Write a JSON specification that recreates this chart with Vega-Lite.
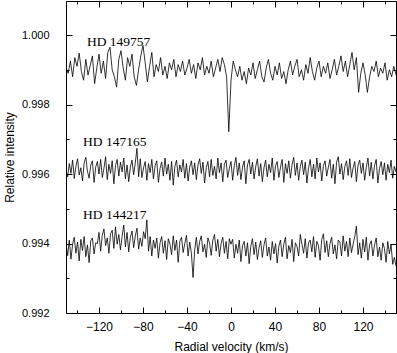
{
"$schema":"https://vega.github.io/schema/vega-lite/v6.json",
"width":330,"height":312,
"autosize":"none",
"padding":{"left":66,"top":1,"right":1,"bottom":40},
"config":{"view":{"stroke":"black","strokeWidth":1},"axis":{"domain":false,"grid":false,"tickColor":"black","tickWidth":1,"labelColor":"black","titleColor":"black","labelFont":"Liberation Sans","titleFont":"Liberation Sans","titleFontWeight":"normal","labelFontSize":11,"titleFontSize":12}},
"datasets":{
"a":[{"x":-150,"y":0.99905},{"x":-148,"y":0.9989},{"x":-146,"y":0.99925},{"x":-144,"y":0.9988},{"x":-142,"y":0.99935},{"x":-140,"y":0.9991},{"x":-138,"y":0.99948},{"x":-136,"y":0.99895},{"x":-134,"y":0.9987},{"x":-132,"y":0.9993},{"x":-130,"y":0.99885},{"x":-128,"y":0.99912},{"x":-126,"y":0.9994},{"x":-124,"y":0.9986},{"x":-122,"y":0.99905},{"x":-120,"y":0.99945},{"x":-118,"y":0.9989},{"x":-116,"y":0.99925},{"x":-114,"y":0.99875},{"x":-112,"y":0.9995},{"x":-110,"y":0.99965},{"x":-108,"y":0.999},{"x":-106,"y":0.9988},{"x":-104,"y":0.9985},{"x":-102,"y":0.9993},{"x":-100,"y":0.99955},{"x":-98,"y":0.99905},{"x":-96,"y":0.9987},{"x":-94,"y":0.99935},{"x":-92,"y":0.9991},{"x":-90,"y":0.99945},{"x":-88,"y":0.9988},{"x":-86,"y":0.99855},{"x":-84,"y":0.999},{"x":-82,"y":0.9994},{"x":-80,"y":0.9997},{"x":-78,"y":0.9992},{"x":-76,"y":0.99865},{"x":-74,"y":0.9991},{"x":-72,"y":0.9995},{"x":-70,"y":0.9988},{"x":-68,"y":0.99915},{"x":-66,"y":0.99895},{"x":-64,"y":0.99935},{"x":-62,"y":0.99885},{"x":-60,"y":0.9991},{"x":-58,"y":0.99875},{"x":-56,"y":0.9992},{"x":-54,"y":0.999},{"x":-52,"y":0.9993},{"x":-50,"y":0.9988},{"x":-48,"y":0.99915},{"x":-46,"y":0.99895},{"x":-44,"y":0.99925},{"x":-42,"y":0.99885},{"x":-40,"y":0.99905},{"x":-38,"y":0.9993},{"x":-36,"y":0.9989},{"x":-34,"y":0.99915},{"x":-32,"y":0.99875},{"x":-30,"y":0.9992},{"x":-28,"y":0.999},{"x":-26,"y":0.99935},{"x":-24,"y":0.99885},{"x":-22,"y":0.9991},{"x":-20,"y":0.9989},{"x":-18,"y":0.99925},{"x":-16,"y":0.9988},{"x":-14,"y":0.99905},{"x":-12,"y":0.9993},{"x":-10,"y":0.99895},{"x":-8,"y":0.99935},{"x":-6,"y":0.99915},{"x":-4,"y":0.9988},{"x":-2,"y":0.99722},{"x":0,"y":0.9987},{"x":2,"y":0.99925},{"x":4,"y":0.999},{"x":6,"y":0.9988},{"x":8,"y":0.9991},{"x":10,"y":0.9987},{"x":12,"y":0.99895},{"x":14,"y":0.9986},{"x":16,"y":0.99905},{"x":18,"y":0.99885},{"x":20,"y":0.9992},{"x":22,"y":0.99875},{"x":24,"y":0.999},{"x":26,"y":0.99925},{"x":28,"y":0.9988},{"x":30,"y":0.99865},{"x":32,"y":0.99905},{"x":34,"y":0.9993},{"x":36,"y":0.9989},{"x":38,"y":0.9987},{"x":40,"y":0.9991},{"x":42,"y":0.99885},{"x":44,"y":0.9992},{"x":46,"y":0.99875},{"x":48,"y":0.99895},{"x":50,"y":0.9986},{"x":52,"y":0.999},{"x":54,"y":0.99925},{"x":56,"y":0.99885},{"x":58,"y":0.9991},{"x":60,"y":0.9993},{"x":62,"y":0.9988},{"x":64,"y":0.999},{"x":66,"y":0.9987},{"x":68,"y":0.99915},{"x":70,"y":0.9989},{"x":72,"y":0.99935},{"x":74,"y":0.99895},{"x":76,"y":0.9987},{"x":78,"y":0.99905},{"x":80,"y":0.99925},{"x":82,"y":0.9988},{"x":84,"y":0.9991},{"x":86,"y":0.9989},{"x":88,"y":0.9992},{"x":90,"y":0.99875},{"x":92,"y":0.999},{"x":94,"y":0.9993},{"x":96,"y":0.99885},{"x":98,"y":0.9991},{"x":100,"y":0.9994},{"x":102,"y":0.99895},{"x":104,"y":0.99925},{"x":106,"y":0.9988},{"x":108,"y":0.99915},{"x":110,"y":0.9995},{"x":112,"y":0.999},{"x":114,"y":0.99935},{"x":116,"y":0.99835},{"x":118,"y":0.9989},{"x":120,"y":0.9992},{"x":122,"y":0.99885},{"x":124,"y":0.99835},{"x":126,"y":0.9988},{"x":128,"y":0.9991},{"x":130,"y":0.99895},{"x":132,"y":0.99925},{"x":134,"y":0.9988},{"x":136,"y":0.99905},{"x":138,"y":0.9989},{"x":140,"y":0.9992},{"x":142,"y":0.9987},{"x":144,"y":0.999},{"x":146,"y":0.9988},{"x":148,"y":0.9991},{"x":150,"y":0.99885}],
"b":[{"x":-150,"y":0.99612},{"x":-148.5,"y":0.99592},{"x":-147,"y":0.9963},{"x":-145.5,"y":0.99602},{"x":-144,"y":0.9964},{"x":-142.5,"y":0.99587},{"x":-141,"y":0.99622},{"x":-139.5,"y":0.99644},{"x":-138,"y":0.99597},{"x":-136.5,"y":0.99618},{"x":-135,"y":0.9958},{"x":-133.5,"y":0.99632},{"x":-132,"y":0.99648},{"x":-130.5,"y":0.99608},{"x":-129,"y":0.99588},{"x":-127.5,"y":0.99626},{"x":-126,"y":0.99638},{"x":-124.5,"y":0.99576},{"x":-123,"y":0.9962},{"x":-121.5,"y":0.99636},{"x":-120,"y":0.996},{"x":-118.5,"y":0.99642},{"x":-117,"y":0.9959},{"x":-115.5,"y":0.99616},{"x":-114,"y":0.9965},{"x":-112.5,"y":0.99584},{"x":-111,"y":0.99628},{"x":-109.5,"y":0.99602},{"x":-108,"y":0.99638},{"x":-106.5,"y":0.99572},{"x":-105,"y":0.99624},{"x":-103.5,"y":0.99642},{"x":-102,"y":0.99594},{"x":-100.5,"y":0.99634},{"x":-99,"y":0.99606},{"x":-97.5,"y":0.99646},{"x":-96,"y":0.99586},{"x":-94.5,"y":0.99626},{"x":-93,"y":0.99578},{"x":-91.5,"y":0.9962},{"x":-90,"y":0.9964},{"x":-88.5,"y":0.99598},{"x":-87,"y":0.99632},{"x":-85.5,"y":0.99674},{"x":-84,"y":0.99592},{"x":-82.5,"y":0.99644},{"x":-81,"y":0.9959},{"x":-79.5,"y":0.99618},{"x":-78,"y":0.99636},{"x":-76.5,"y":0.99582},{"x":-75,"y":0.9963},{"x":-73.5,"y":0.99604},{"x":-72,"y":0.99642},{"x":-70.5,"y":0.99586},{"x":-69,"y":0.99624},{"x":-67.5,"y":0.99638},{"x":-66,"y":0.99576},{"x":-64.5,"y":0.99616},{"x":-63,"y":0.99634},{"x":-61.5,"y":0.99594},{"x":-60,"y":0.99646},{"x":-58.5,"y":0.996},{"x":-57,"y":0.99628},{"x":-55.5,"y":0.99582},{"x":-54,"y":0.99636},{"x":-52.5,"y":0.99568},{"x":-51,"y":0.99622},{"x":-49.5,"y":0.9964},{"x":-48,"y":0.99592},{"x":-46.5,"y":0.99626},{"x":-45,"y":0.99606},{"x":-43.5,"y":0.99642},{"x":-42,"y":0.99588},{"x":-40.5,"y":0.9963},{"x":-39,"y":0.9958},{"x":-37.5,"y":0.9962},{"x":-36,"y":0.99638},{"x":-34.5,"y":0.99598},{"x":-33,"y":0.99632},{"x":-31.5,"y":0.99584},{"x":-30,"y":0.99626},{"x":-28.5,"y":0.99644},{"x":-27,"y":0.99602},{"x":-25.5,"y":0.99634},{"x":-24,"y":0.99574},{"x":-22.5,"y":0.99618},{"x":-21,"y":0.99636},{"x":-19.5,"y":0.99592},{"x":-18,"y":0.99642},{"x":-16.5,"y":0.99596},{"x":-15,"y":0.99622},{"x":-13.5,"y":0.99586},{"x":-12,"y":0.99646},{"x":-10.5,"y":0.99604},{"x":-9,"y":0.99632},{"x":-7.5,"y":0.99578},{"x":-6,"y":0.99628},{"x":-4.5,"y":0.9964},{"x":-3,"y":0.9959},{"x":-1.5,"y":0.99616},{"x":0,"y":0.99636},{"x":1.5,"y":0.99582},{"x":3,"y":0.99624},{"x":4.5,"y":0.99648},{"x":6,"y":0.99596},{"x":7.5,"y":0.99632},{"x":9,"y":0.99584},{"x":10.5,"y":0.9962},{"x":12,"y":0.99638},{"x":13.5,"y":0.99572},{"x":15,"y":0.99626},{"x":16.5,"y":0.99642},{"x":18,"y":0.996},{"x":19.5,"y":0.99634},{"x":21,"y":0.99586},{"x":22.5,"y":0.99622},{"x":24,"y":0.99644},{"x":25.5,"y":0.99594},{"x":27,"y":0.9963},{"x":28.5,"y":0.99578},{"x":30,"y":0.99618},{"x":31.5,"y":0.9964},{"x":33,"y":0.99592},{"x":34.5,"y":0.99628},{"x":36,"y":0.99604},{"x":37.5,"y":0.99646},{"x":39,"y":0.99582},{"x":40.5,"y":0.99624},{"x":42,"y":0.99636},{"x":43.5,"y":0.9959},{"x":45,"y":0.9962},{"x":46.5,"y":0.99642},{"x":48,"y":0.99576},{"x":49.5,"y":0.9963},{"x":51,"y":0.99602},{"x":52.5,"y":0.99638},{"x":54,"y":0.99588},{"x":55.5,"y":0.99626},{"x":57,"y":0.99648},{"x":58.5,"y":0.99596},{"x":60,"y":0.99632},{"x":61.5,"y":0.99582},{"x":63,"y":0.99622},{"x":64.5,"y":0.9964},{"x":66,"y":0.99598},{"x":67.5,"y":0.99634},{"x":69,"y":0.99574},{"x":70.5,"y":0.99618},{"x":72,"y":0.99642},{"x":73.5,"y":0.99592},{"x":75,"y":0.99628},{"x":76.5,"y":0.99586},{"x":78,"y":0.99646},{"x":79.5,"y":0.99606},{"x":81,"y":0.99632},{"x":82.5,"y":0.9958},{"x":84,"y":0.99624},{"x":85.5,"y":0.99638},{"x":87,"y":0.99594},{"x":88.5,"y":0.9962},{"x":90,"y":0.99642},{"x":91.5,"y":0.99588},{"x":93,"y":0.99628},{"x":94.5,"y":0.99572},{"x":96,"y":0.99634},{"x":97.5,"y":0.9965},{"x":99,"y":0.996},{"x":100.5,"y":0.9963},{"x":102,"y":0.99584},{"x":103.5,"y":0.99622},{"x":105,"y":0.99638},{"x":106.5,"y":0.99596},{"x":108,"y":0.99644},{"x":109.5,"y":0.9959},{"x":111,"y":0.99618},{"x":112.5,"y":0.99636},{"x":114,"y":0.99578},{"x":115.5,"y":0.99626},{"x":117,"y":0.9964},{"x":118.5,"y":0.99602},{"x":120,"y":0.99632},{"x":121.5,"y":0.99582},{"x":123,"y":0.9962},{"x":124.5,"y":0.99646},{"x":126,"y":0.99594},{"x":127.5,"y":0.99634},{"x":129,"y":0.99586},{"x":130.5,"y":0.99624},{"x":132,"y":0.99642},{"x":133.5,"y":0.99574},{"x":135,"y":0.99616},{"x":136.5,"y":0.99636},{"x":138,"y":0.99598},{"x":139.5,"y":0.99632},{"x":141,"y":0.99582},{"x":142.5,"y":0.99628},{"x":144,"y":0.99604},{"x":145.5,"y":0.9964},{"x":147,"y":0.99588},{"x":148.5,"y":0.99622},{"x":150,"y":0.99606}],
"c":[{"x":-150,"y":0.994},{"x":-148.5,"y":0.99365},{"x":-147,"y":0.9941},{"x":-145.5,"y":0.99355},{"x":-144,"y":0.99398},{"x":-142.5,"y":0.99418},{"x":-141,"y":0.99372},{"x":-139.5,"y":0.99404},{"x":-138,"y":0.9935},{"x":-136.5,"y":0.99412},{"x":-135,"y":0.9938},{"x":-133.5,"y":0.9942},{"x":-132,"y":0.99362},{"x":-130.5,"y":0.99396},{"x":-129,"y":0.99345},{"x":-127.5,"y":0.99408},{"x":-126,"y":0.99416},{"x":-124.5,"y":0.9937},{"x":-123,"y":0.99402},{"x":-121.5,"y":0.994},{"x":-120,"y":0.99432},{"x":-118.5,"y":0.99378},{"x":-117,"y":0.99424},{"x":-115.5,"y":0.99442},{"x":-114,"y":0.99394},{"x":-112.5,"y":0.99416},{"x":-111,"y":0.99372},{"x":-109.5,"y":0.99428},{"x":-108,"y":0.99438},{"x":-106.5,"y":0.99386},{"x":-105,"y":0.99448},{"x":-103.5,"y":0.99398},{"x":-102,"y":0.99426},{"x":-100.5,"y":0.99382},{"x":-99,"y":0.9942},{"x":-97.5,"y":0.99453},{"x":-96,"y":0.9939},{"x":-94.5,"y":0.99432},{"x":-93,"y":0.99376},{"x":-91.5,"y":0.99418},{"x":-90,"y":0.99436},{"x":-88.5,"y":0.99388},{"x":-87,"y":0.99422},{"x":-85.5,"y":0.99444},{"x":-84,"y":0.99384},{"x":-82.5,"y":0.99416},{"x":-81,"y":0.99392},{"x":-79.5,"y":0.99434},{"x":-78,"y":0.99414},{"x":-76.5,"y":0.99468},{"x":-75,"y":0.99378},{"x":-73.5,"y":0.9942},{"x":-72,"y":0.99364},{"x":-70.5,"y":0.9941},{"x":-69,"y":0.99386},{"x":-67.5,"y":0.99416},{"x":-66,"y":0.99358},{"x":-64.5,"y":0.99402},{"x":-63,"y":0.9942},{"x":-61.5,"y":0.99372},{"x":-60,"y":0.99408},{"x":-58.5,"y":0.99354},{"x":-57,"y":0.99414},{"x":-55.5,"y":0.99398},{"x":-54,"y":0.99368},{"x":-52.5,"y":0.99422},{"x":-51,"y":0.9938},{"x":-49.5,"y":0.9941},{"x":-48,"y":0.99346},{"x":-46.5,"y":0.99406},{"x":-45,"y":0.99418},{"x":-43.5,"y":0.99374},{"x":-42,"y":0.994},{"x":-40.5,"y":0.99424},{"x":-39,"y":0.99364},{"x":-37.5,"y":0.99404},{"x":-36,"y":0.99372},{"x":-34.5,"y":0.99302},{"x":-33,"y":0.99382},{"x":-31.5,"y":0.99418},{"x":-30,"y":0.9937},{"x":-28.5,"y":0.99406},{"x":-27,"y":0.99422},{"x":-25.5,"y":0.99376},{"x":-24,"y":0.99398},{"x":-22.5,"y":0.9936},{"x":-21,"y":0.99416},{"x":-19.5,"y":0.99402},{"x":-18,"y":0.99366},{"x":-16.5,"y":0.9941},{"x":-15,"y":0.99426},{"x":-13.5,"y":0.99378},{"x":-12,"y":0.99412},{"x":-10.5,"y":0.99362},{"x":-9,"y":0.994},{"x":-7.5,"y":0.99418},{"x":-6,"y":0.99372},{"x":-4.5,"y":0.99406},{"x":-3,"y":0.99356},{"x":-1.5,"y":0.99414},{"x":0,"y":0.99398},{"x":1.5,"y":0.99412},{"x":3,"y":0.99358},{"x":4.5,"y":0.99398},{"x":6,"y":0.99372},{"x":7.5,"y":0.9941},{"x":9,"y":0.99348},{"x":10.5,"y":0.99394},{"x":12,"y":0.99406},{"x":13.5,"y":0.99364},{"x":15,"y":0.99402},{"x":16.5,"y":0.99342},{"x":18,"y":0.99392},{"x":19.5,"y":0.99414},{"x":21,"y":0.99368},{"x":22.5,"y":0.99404},{"x":24,"y":0.99354},{"x":25.5,"y":0.99388},{"x":27,"y":0.99408},{"x":28.5,"y":0.9936},{"x":30,"y":0.99396},{"x":31.5,"y":0.99416},{"x":33,"y":0.99364},{"x":34.5,"y":0.9939},{"x":36,"y":0.99352},{"x":37.5,"y":0.99406},{"x":39,"y":0.9937},{"x":40.5,"y":0.994},{"x":42,"y":0.99344},{"x":43.5,"y":0.99392},{"x":45,"y":0.9941},{"x":46.5,"y":0.99362},{"x":48,"y":0.99398},{"x":49.5,"y":0.99418},{"x":51,"y":0.99356},{"x":52.5,"y":0.99394},{"x":54,"y":0.99374},{"x":55.5,"y":0.99412},{"x":57,"y":0.99348},{"x":58.5,"y":0.99402},{"x":60,"y":0.99392},{"x":61.5,"y":0.99364},{"x":63,"y":0.99426},{"x":64.5,"y":0.99398},{"x":66,"y":0.99372},{"x":67.5,"y":0.99414},{"x":69,"y":0.99358},{"x":70.5,"y":0.99402},{"x":72,"y":0.9941},{"x":73.5,"y":0.99376},{"x":75,"y":0.9942},{"x":76.5,"y":0.9936},{"x":78,"y":0.99406},{"x":79.5,"y":0.99394},{"x":81,"y":0.99352},{"x":82.5,"y":0.99412},{"x":84,"y":0.99428},{"x":85.5,"y":0.99374},{"x":87,"y":0.99408},{"x":88.5,"y":0.99362},{"x":90,"y":0.994},{"x":91.5,"y":0.99418},{"x":93,"y":0.9937},{"x":94.5,"y":0.99396},{"x":96,"y":0.99356},{"x":97.5,"y":0.9941},{"x":99,"y":0.99404},{"x":100.5,"y":0.99364},{"x":102,"y":0.99422},{"x":103.5,"y":0.99378},{"x":105,"y":0.99406},{"x":106.5,"y":0.99362},{"x":108,"y":0.99416},{"x":109.5,"y":0.99374},{"x":111,"y":0.99398},{"x":112.5,"y":0.9942},{"x":114,"y":0.9945},{"x":115.5,"y":0.99368},{"x":117,"y":0.99402},{"x":118.5,"y":0.99358},{"x":120,"y":0.99412},{"x":121.5,"y":0.99376},{"x":123,"y":0.99418},{"x":124.5,"y":0.99352},{"x":126,"y":0.99396},{"x":127.5,"y":0.99408},{"x":129,"y":0.99364},{"x":130.5,"y":0.99396},{"x":132,"y":0.99416},{"x":133.5,"y":0.99362},{"x":135,"y":0.9939},{"x":136.5,"y":0.99352},{"x":138,"y":0.99402},{"x":139.5,"y":0.99386},{"x":141,"y":0.99346},{"x":142.5,"y":0.99406},{"x":144,"y":0.9937},{"x":145.5,"y":0.99398},{"x":147,"y":0.9934},{"x":148.5,"y":0.9936},{"x":150,"y":0.99335}],
"labels":[{"x":-131,"y":0.9998,"t":"HD 149757"},{"x":-134.5,"y":0.99692,"t":"HD 147165"},{"x":-134.5,"y":0.99482,"t":"HD 144217"}]
},
"resolve":{"axis":{"x":"independent","y":"independent"}},
"layer":[
{"data":{"name":"a"},"mark":{"type":"line","color":"black","strokeWidth":0.8,"clip":true},
 "encoding":{
  "x":{"field":"x","type":"quantitative","scale":{"domain":[-150,150],"nice":false,"zero":false},
   "axis":{"orient":"bottom","values":[-140,-120,-100,-80,-60,-40,-20,0,20,40,60,80,100,120,140],"labelExpr":"datum.value % 40 === 0 ? datum.label : ''","tickSize":{"condition":{"test":"datum.value % 40 === 0","value":-6},"value":-3},"labelPadding":14,"labelFontSize":12,"title":"Radial velocity (km/s)","titlePadding":9}},
  "y":{"field":"y","type":"quantitative","scale":{"domain":[0.992,1.00098],"nice":false,"zero":false},
   "axis":{"orient":"left","values":[0.992,0.993,0.994,0.995,0.996,0.997,0.998,0.999,1.0],"labelExpr":"round(datum.value*1000) % 2 === 0 ? format(datum.value, '.3f') : ''","tickSize":{"condition":{"test":"round(datum.value*1000) % 2 === 0","value":-6},"value":-3},"labelPadding":23,"title":"Relative intensity","titlePadding":5}}}},
{"data":{"name":"b"},"mark":{"type":"line","color":"black","strokeWidth":0.8,"clip":true},
 "encoding":{
  "x":{"field":"x","type":"quantitative","scale":{"domain":[-150,150],"nice":false,"zero":false},
   "axis":{"orient":"top","values":[-140,-120,-100,-80,-60,-40,-20,0,20,40,60,80,100,120,140],"labels":false,"title":null,"tickSize":{"condition":{"test":"datum.value % 40 === 0","value":-6},"value":-3}}},
  "y":{"field":"y","type":"quantitative","scale":{"domain":[0.992,1.00098],"nice":false,"zero":false},
   "axis":{"orient":"right","values":[0.992,0.993,0.994,0.995,0.996,0.997,0.998,0.999,1.0],"labels":false,"title":null,"tickSize":{"condition":{"test":"round(datum.value*1000) % 2 === 0","value":-6},"value":-3}}}}},
{"data":{"name":"c"},"mark":{"type":"line","color":"black","strokeWidth":0.8,"clip":true},
 "encoding":{
  "x":{"field":"x","type":"quantitative","axis":null},
  "y":{"field":"y","type":"quantitative","axis":null}}},
{"data":{"name":"labels"},"mark":{"type":"text","align":"left","baseline":"middle","font":"Liberation Serif","fontSize":13.5,"color":"black"},
 "encoding":{
  "x":{"field":"x","type":"quantitative","axis":null},
  "y":{"field":"y","type":"quantitative","axis":null},
  "text":{"field":"t","type":"nominal"}}}
]
}
